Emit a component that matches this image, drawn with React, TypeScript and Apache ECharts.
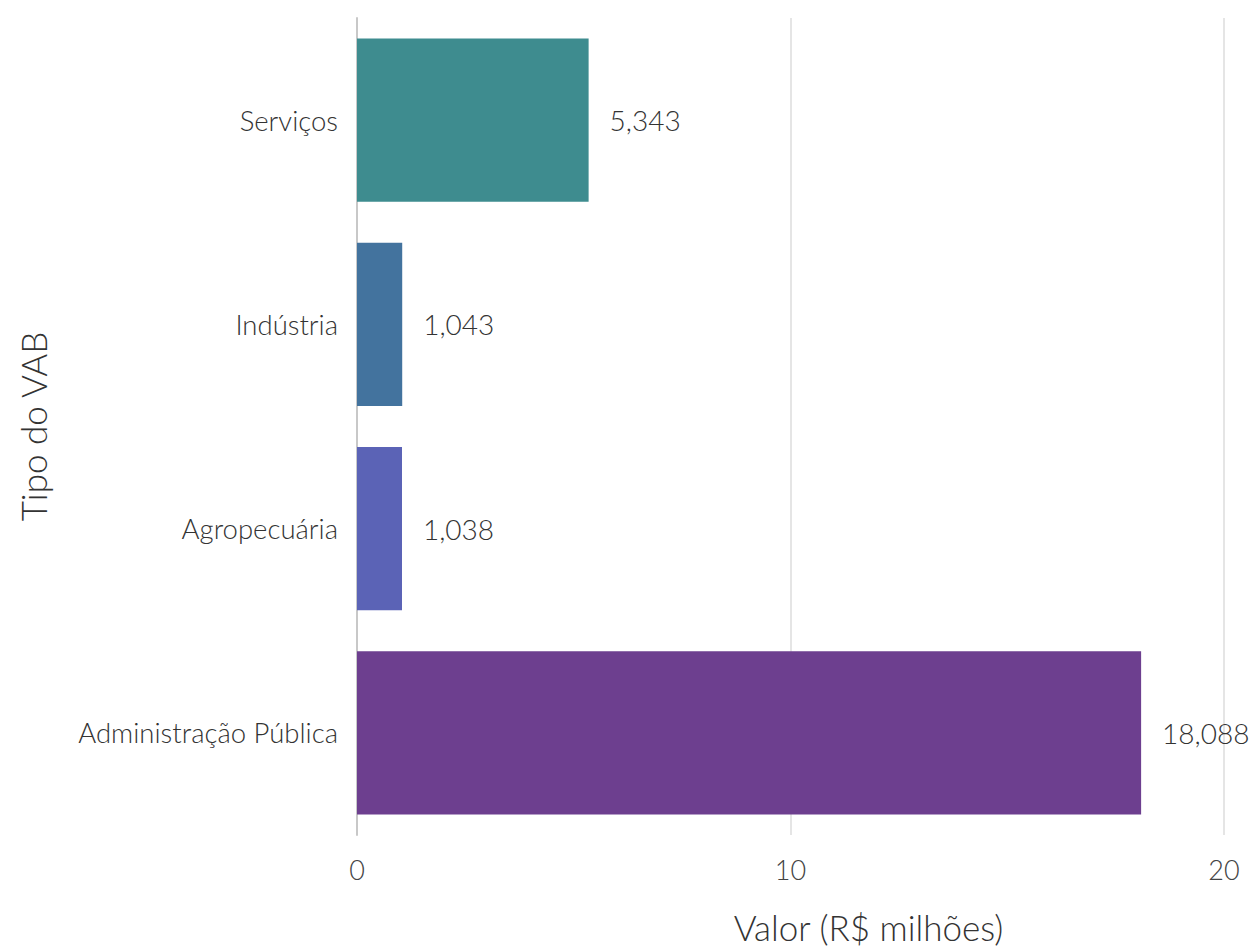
import React, { useEffect, useRef } from "react";
import * as echarts from "echarts";

const categories = ["Serviços", "Indústria", "Agropecuária", "Administração Pública"];
const values = [5.343, 1.043, 1.038, 18.088];
const barColors = ["#3e8c8f", "#43739e", "#5b63b6", "#6d3f8f"];
const xTicks = [0, 10, 20];

const FONT = "'Lato Light', Lato";

export default function App() {
  const ref = useRef<HTMLDivElement>(null);
  useEffect(() => {
    if (!ref.current) return;
    const chart = echarts.init(ref.current, undefined, { renderer: "svg" });
    chart.setOption({
      animation: false,
      backgroundColor: "#ffffff",
      textStyle: { fontFamily: FONT, fontWeight: 300 },
      grid: { left: 357, right: 26, top: 18, bottom: 112, containLabel: false },
      xAxis: {
        type: "value",
        min: xTicks[0],
        max: xTicks[xTicks.length - 1],
        interval: 10,
        name: "Valor (R$ milhões)",
        nameLocation: "middle",
        nameGap: 74,
        nameTextStyle: { fontSize: 35, color: "#333333", fontFamily: FONT, fontWeight: 300, padding: [0, 0, 0, 156] },
        axisLine: { show: false },
        axisTick: { show: false },
        axisLabel: { fontSize: 27, color: "#444444", margin: 21, fontFamily: FONT, fontWeight: 300 },
        splitLine: { show: true, lineStyle: { color: "#dddddd", width: 1.5 } },
      },
      yAxis: {
        type: "category",
        data: categories,
        inverse: true,
        name: "Tipo do VAB",
        nameLocation: "middle",
        nameGap: 307,
        nameTextStyle: { fontSize: 35, color: "#333333", fontFamily: FONT, fontWeight: 300 },
        axisLine: { show: true, lineStyle: { color: "#c8c8c8", width: 2 } },
        axisTick: { show: false },
        axisLabel: { fontSize: 27.5, color: "#333333", margin: 19, fontFamily: FONT, fontWeight: 300 },
        splitLine: { show: false },
      },
      series: [
        {
          type: "bar",
          data: values.map((v, i) => ({ value: v, itemStyle: { color: barColors[i] } })),
          barCategoryGap: "20%",
          label: {
            show: true,
            position: "right",
            distance: 21,
            fontSize: 28,
            color: "#333333",
            fontFamily: FONT,
            fontWeight: 300,
            formatter: (p: any) => p.value.toFixed(3).replace(".", ","),
          },
        },
      ],
    });
    return () => chart.dispose();
  }, []);
  return <div ref={ref} style={{ width: 1250, height: 949, position: "absolute", left: 0, top: 0 }} />;
}
